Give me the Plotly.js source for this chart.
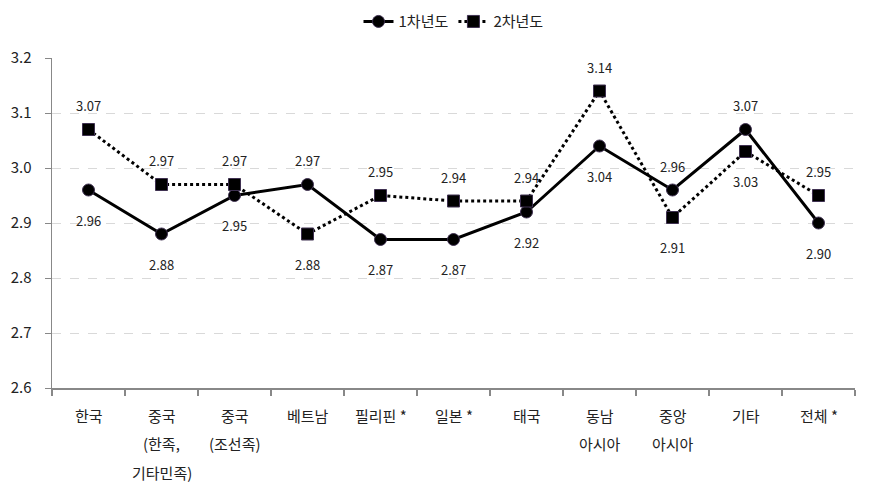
<!DOCTYPE html>
<html>
<head>
<meta charset="utf-8">
<script src="https://cdn.plot.ly/plotly-3.0.1.min.js"></script>
<style>body{margin:0;background:#fff}#chart{width:871px;height:493px}</style>
</head>
<body>
<div id="chart"></div>
<script>
// categories and scores
const categories = ['한국', '중국<br>(한족,<br>기타민족)', '중국<br>(조선족)', '베트남', '필리핀 *', '일본 *', '태국', '동남<br>아시아', '중앙<br>아시아', '기타', '전체 *'];
const year1 = [2.96, 2.88, 2.95, 2.97, 2.87, 2.87, 2.92, 3.04, 2.96, 3.07, 2.90];
const year2 = [3.07, 2.97, 2.97, 2.88, 2.95, 2.94, 2.94, 3.14, 2.91, 3.03, 2.95];
const year1Name = '1차년도';
const year2Name = '2차년도';

const font = 'Noto Sans CJK KR, Malgun Gothic, sans-serif';

// label goes above the marker for 1차년도 at these points (2차년도 label goes the other way)
const year1Above = [false, false, false, true, false, false, false, false, true, true, false];

const annotations = [];
const lblFont = {family: font, size: 13, color: '#222'};
year1.forEach((v, i) => {
  annotations.push({x: categories[i], y: v, text: v.toFixed(2), showarrow: false,
    yshift: year1Above[i] ? 24 : -30, font: lblFont});
});
year2.forEach((v, i) => {
  annotations.push({x: categories[i], y: v, text: v.toFixed(2), showarrow: false,
    yshift: year1Above[i] ? -30 : 24, font: lblFont});
});
// category labels, one annotation per line so the line spacing matches the source
categories.forEach(c => {
  c.split('<br>').forEach((line, k) => {
    annotations.push({x: c, xref: 'x', yref: 'paper', y: 0, text: line, showarrow: false,
      yanchor: 'middle', yshift: -27 - 28.5 * k,
      font: {family: font, size: 15, color: '#222'}});
  });
});

const data = [{
  x: categories, y: year1, name: year1Name, mode: 'lines+markers',
  line: {color: '#000', width: 3},
  marker: {symbol: 'circle', size: 12, color: '#000', line: {color: '#3f3151', width: 1}}
}, {
  x: categories, y: year2, name: year2Name, mode: 'lines+markers',
  line: {color: '#000', width: 3, dash: 'dot'},
  marker: {symbol: 'square', size: 12, color: '#000', line: {color: '#3f3151', width: 1}}
}];

const layout = {
  width: 871, height: 493,
  margin: {l: 52, r: 16, t: 58, b: 105, autoexpand: false},
  paper_bgcolor: '#fff', plot_bgcolor: '#fff',
  font: {family: font, size: 15, color: '#222'},
  showlegend: true,
  legend: {orientation: 'h', x: 0.5, xanchor: 'center', y: 1.11, yanchor: 'middle',
    font: {family: font, size: 15, color: '#222'}},
  xaxis: {
    type: 'category',
    range: [-0.5, categories.length - 0.5],
    showticklabels: false,
    showgrid: false, zeroline: false,
    showline: true, linecolor: '#888', linewidth: 1.5,
    ticks: 'outside', tickson: 'boundaries', ticklen: 6, tickcolor: '#888', tickwidth: 1.5
  },
  yaxis: {
    range: [2.6, 3.2], dtick: 0.1, tickformat: '.1f',
    showgrid: true, gridcolor: '#d9d9d9', griddash: 'dash', gridwidth: 1,
    zeroline: false, showline: true, linecolor: '#888', linewidth: 1.5,
    ticks: 'outside', ticklen: 6, tickcolor: '#888', ticklabelstandoff: 10
  },
  annotations: annotations
};

Plotly.newPlot('chart', data, layout, {displayModeBar: false, staticPlot: true});
</script>
</body>
</html>
